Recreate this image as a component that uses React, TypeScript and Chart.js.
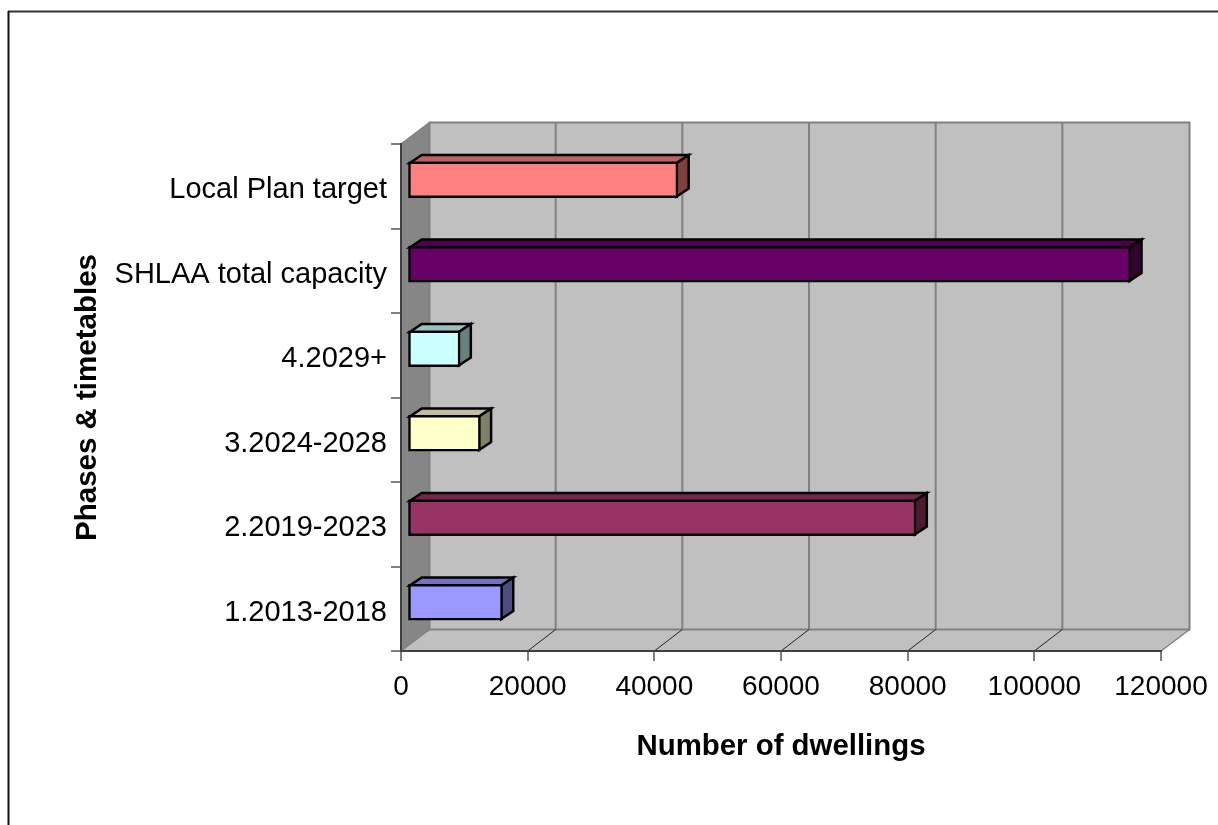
import React, { useEffect, useRef } from "react";
import { Chart, registerables } from "chart.js";

Chart.register(...registerables);

const categories = ["Local Plan target", "SHLAA total capacity", "4.2029+", "3.2024-2028", "2.2019-2023", "1.2013-2018"];
const dwellings = [42700, 114200, 8300, 11500, 80300, 15000];
const frontColors = ["#FF8080", "#660066", "#CCFFFF", "#FFFFCC", "#993366", "#9999FF"];
const topColors = ["#BF6060", "#4D004D", "#99BFBF", "#BFBF99", "#73264D", "#7373BF"];
const sideColors = ["#804040", "#330033", "#668080", "#808066", "#4D1A33", "#4D4D80"];
const xTitle = "Number of dwellings";
const yTitle = "Phases & timetables";

const WALL_DX = 28.5;
const WALL_DY = 21.5;
const BAR_DX = 12;
const BAR_DY = 8;
const BAR_SHIFT_X = 6.5;
const BAR_SHIFT_Y = -6.5;
const BAR_LINE = 2.5;

function poly(ctx: CanvasRenderingContext2D, pts: number[][], fill: string | null, stroke: string | null, lw = 1) {
  ctx.beginPath();
  pts.forEach((p, i) => (i ? ctx.lineTo(p[0], p[1]) : ctx.moveTo(p[0], p[1])));
  ctx.closePath();
  if (fill) {
    ctx.fillStyle = fill;
    ctx.fill();
  }
  if (stroke) {
    ctx.strokeStyle = stroke;
    ctx.lineWidth = lw;
    ctx.lineJoin = "miter";
    ctx.stroke();
  }
}

function line(ctx: CanvasRenderingContext2D, x1: number, y1: number, x2: number, y2: number, color: string, lw: number) {
  ctx.beginPath();
  ctx.moveTo(x1, y1);
  ctx.lineTo(x2, y2);
  ctx.strokeStyle = color;
  ctx.lineWidth = lw;
  ctx.stroke();
}

const box3d = {
  id: "box3d",
  beforeDraw(chart: any) {
    const { ctx, chartArea: a, scales } = chart;
    ctx.save();
    // outer frame of the chart, open to the right and the bottom like the reference
    line(ctx, 8, 11.5, 1218, 11.5, "#333333", 2);
    line(ctx, 8.5, 11, 8.5, 825, "#111111", 2);
    const dx = WALL_DX;
    const dy = WALL_DY;
    // floor
    poly(ctx, [[a.left, a.bottom], [a.left + dx, a.bottom - dy], [a.right + dx, a.bottom - dy], [a.right, a.bottom]], "#C0C0C0", null);
    // left wall
    poly(ctx, [[a.left, a.top], [a.left + dx, a.top - dy], [a.left + dx, a.bottom - dy], [a.left, a.bottom]], "#868686", null);
    // back wall
    poly(ctx, [[a.left + dx, a.top - dy], [a.right + dx, a.top - dy], [a.right + dx, a.bottom - dy], [a.left + dx, a.bottom - dy]], "#C0C0C0", "#808080", 2);
    // gridlines
    scales.x.ticks.forEach((t: any, i: number) => {
      const x = scales.x.getPixelForTick(i);
      if (t.value > 0 && t.value < 120000) {
        line(ctx, x + dx - 0.5, a.top - dy, x + dx - 0.5, a.bottom - dy, "#808080", 2);
        line(ctx, x, a.bottom, x + dx - 0.5, a.bottom - dy, "#222222", 1);
      }
    });
    line(ctx, a.left, a.top, a.left + dx, a.top - dy, "#808080", 1.5);
    line(ctx, a.left, a.bottom, a.left + dx, a.bottom - dy, "#808080", 1.5);
    line(ctx, a.right, a.bottom, a.right + dx, a.bottom - dy, "#808080", 1.5);
    ctx.restore();
  },
  beforeDatasetsDraw(chart: any) {
    const { ctx } = chart;
    ctx.save();
    ctx.translate(BAR_SHIFT_X, BAR_SHIFT_Y);
    const meta = chart.getDatasetMeta(0);
    meta.data.forEach((bar: any, i: number) => {
      const { x, y, base, height } = bar.getProps(["x", "y", "base", "height"], true);
      const inset = BAR_LINE / 2;
      const t = y - height / 2 + inset;
      const b = y + height / 2 - inset;
      const l = base + inset;
      const r = x - inset;
      poly(ctx, [[l, t], [l + BAR_DX, t - BAR_DY], [r + BAR_DX, t - BAR_DY], [r, t]], topColors[i], "#000000", BAR_LINE);
      poly(ctx, [[r, t], [r + BAR_DX, t - BAR_DY], [r + BAR_DX, b - BAR_DY], [r, b]], sideColors[i], "#000000", BAR_LINE);
    });
  },
  afterDatasetsDraw(chart: any) {
    chart.ctx.restore();
  },
};

export default function App() {
  const ref = useRef<HTMLCanvasElement>(null);
  useEffect(() => {
    const chart = new Chart(ref.current as HTMLCanvasElement, {
      type: "bar",
      data: {
        labels: categories,
        datasets: [
          {
            data: dwellings,
            backgroundColor: frontColors,
            borderColor: "#000000",
            borderWidth: BAR_LINE,
            borderSkipped: false,
            barThickness: 36,
          },
        ],
      },
      options: {
        indexAxis: "y",
        animation: false,
        responsive: false,
        devicePixelRatio: 1,
        layout: { padding: { left: 0, top: 144, right: 57, bottom: 0 } },
        plugins: { legend: { display: false }, tooltip: { enabled: false } },
        scales: {
          x: {
            min: 0,
            max: 120000,
            ticks: {
              stepSize: 20000,
              color: "#000000",
              font: { family: "Liberation Sans", size: 28 },
              maxRotation: 0,
              padding: 9,
              autoSkip: false,
              callback: (v: any) => String(v),
            },
            grid: { drawOnChartArea: false, drawTicks: true, tickLength: 10, color: "#808080", lineWidth: 2 },
            border: { display: true, color: "#404040", width: 2 },
            title: {
              display: true,
              text: xTitle,
              color: "#000000",
              font: { family: "Liberation Sans", size: 29.4, weight: "bold" },
              padding: { top: 0, bottom: 60 },
            },
            afterFit(scale: any) {
              scale.height = 174;
            },
          },
          y: {
            offset: true,
            ticks: {
              color: "#000000",
              font: { family: "Liberation Sans", size: 29 },
              padding: 4,
              labelOffset: 4,
              autoSkip: false,
            },
            grid: { drawOnChartArea: false, drawTicks: true, tickLength: 10, color: "#808080", lineWidth: 2, offset: true },
            border: { display: true, color: "#404040", width: 2 },
            title: {
              display: true,
              text: yTitle,
              color: "#000000",
              font: { family: "Liberation Sans", size: 29.5, weight: "bold" },
              padding: { top: 70, bottom: 0 },
            },
            afterFit(scale: any) {
              scale.width = 401;
            },
          },
        },
      },
      plugins: [box3d],
    } as any);
    return () => chart.destroy();
  }, []);
  return (
    <canvas
      ref={ref}
      width={1218}
      height={825}
      style={{ position: "absolute", left: 0, top: 0, display: "block" }}
    />
  );
}
